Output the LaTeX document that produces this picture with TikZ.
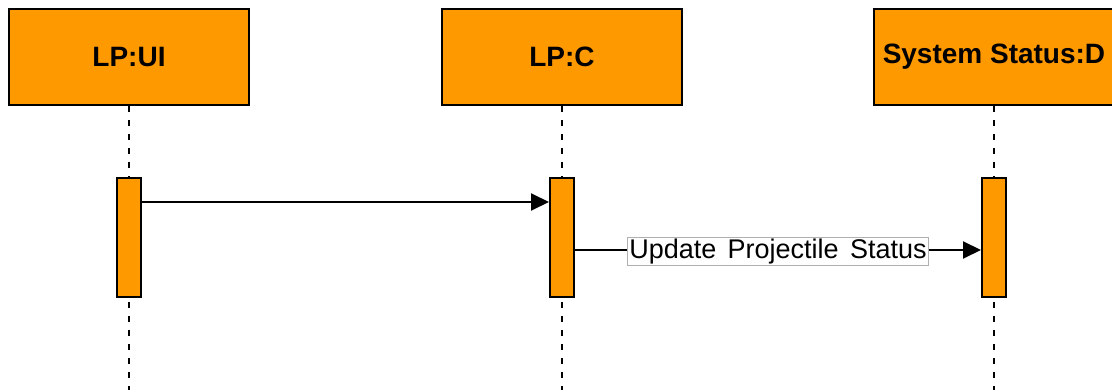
\documentclass[tikz,border=0pt]{standalone}
\usepackage{fontspec}
\setmainfont{Liberation Sans}
\usetikzlibrary{arrows.meta}
\definecolor{lifeorange}{HTML}{FF9900}
\definecolor{labelgray}{HTML}{B0B0B0}
\begin{document}
\begin{tikzpicture}[x=1pt,y=-1pt,
  head/.style={draw=black,line width=2pt,fill=lifeorange,minimum width=240pt,minimum height=96pt,
    inner sep=0pt,font=\fontsize{28}{30}\selectfont\bfseries},
  bar/.style={draw=black,line width=2pt,fill=lifeorange,minimum width=24pt,minimum height=119pt,inner sep=0pt},
  lifeline/.style={line width=1.4pt,dash pattern=on 6pt off 8pt},
  msg/.style={line width=2pt,-{Triangle[length=18pt,width=17pt]}},
  msglabel/.style={draw=labelgray,line width=1pt,fill=white,inner xsep=1.5pt,inner ysep=1.5pt,
    font=\fontsize{27}{30}\selectfont,
    execute at begin node={\spaceskip=0.42em plus 0.1em\relax}}]
\useasboundingbox (0,0) rectangle (1112,390);
\clip (0,0) rectangle (1112,390);

% lifeline heads
\node[head] (ui) at (129,57) {LP:UI};
\node[head] (ctl) at (562,57) {LP:C};
\node[head] (sys) at (994,57) {System Status:D};

% dashed lifelines
\coordinate (uiEnd) at (129,392);
\coordinate (ctlEnd) at (562,392);
\coordinate (sysEnd) at (994,392);
\draw[lifeline] (ui.south) -- (uiEnd);
\draw[lifeline] (ctl.south) -- (ctlEnd);
\draw[lifeline] (sys.south) -- (sysEnd);

% activation bars
\node[bar] (uiBar) at (129,237.5) {};
\node[bar] (ctlBar) at (562,237.5) {};
\node[bar] (sysBar) at (994,237.5) {};

% messages
\draw[msg] (uiBar.east |- 0,202) -- (ctlBar.west |- 0,202);
\draw[msg] (ctlBar.east |- 0,250) -- node[msglabel,yshift=-1.5pt] {Update Projectile Status} (sysBar.west |- 0,250);
\end{tikzpicture}
\end{document}
